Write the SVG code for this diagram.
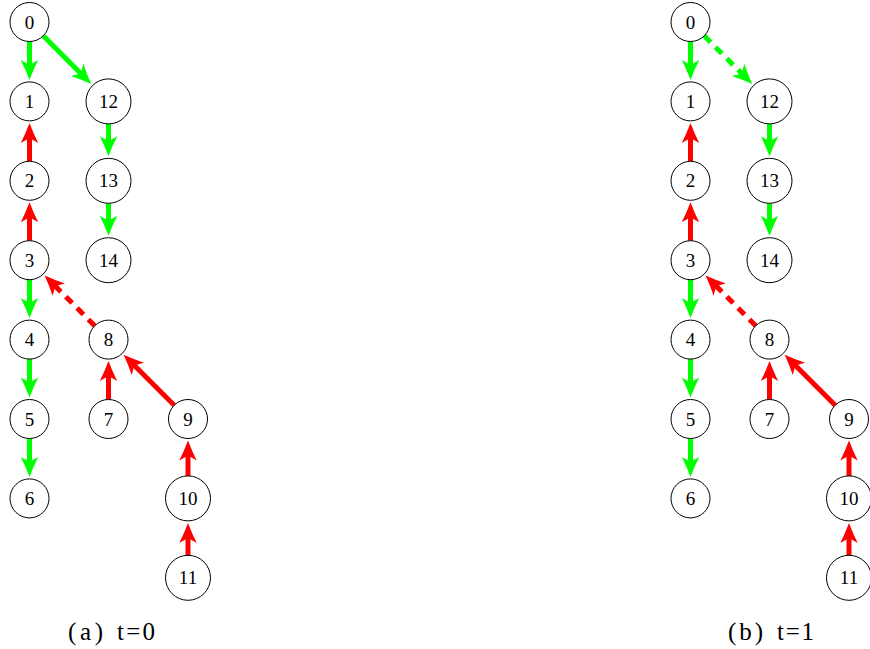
<svg xmlns="http://www.w3.org/2000/svg" width="870" height="649" viewBox="0 0 870 649">
<style>
.n circle{fill:#fff;stroke:#000;stroke-width:1}
.n text{font-family:"Liberation Serif","Times New Roman",serif;font-size:19px;text-anchor:middle;fill:#000}
.cap{font-family:"Liberation Serif","Times New Roman",serif;font-size:25px;fill:#000}
.g{stroke:#00ff00;stroke-width:5;fill:none;marker-end:url(#ag)}
.r{stroke:#ff0000;stroke-width:5;fill:none;marker-end:url(#ar)}
.d{stroke-dasharray:9 7}
</style>
<defs>
<marker id="ag" markerUnits="userSpaceOnUse" markerWidth="22" markerHeight="18" refX="8" refY="9" orient="auto" overflow="visible">
<path d="M20,9 Q9,4.8 0,0.3 L5,9 L0,17.7 Q9,13.2 20,9 Z" fill="#00ff00"/>
</marker>
<marker id="ar" markerUnits="userSpaceOnUse" markerWidth="22" markerHeight="18" refX="8" refY="9" orient="auto" overflow="visible">
<path d="M20,9 Q9,4.8 0,0.3 L5,9 L0,17.7 Q9,13.2 20,9 Z" fill="#ff0000"/>
</marker>
</defs>
<rect width="870" height="649" fill="#fff"/>

<g id="panel-a">
<g id="a-edges">
<line class="g" x1="29.5" y1="41.5" x2="29.5" y2="67.9"/>
<line class="g" x1="43.25" y1="35.82" x2="82.76" y2="75.52"/>
<line class="r" x1="29.5" y1="161.3" x2="29.5" y2="134.9"/>
<line class="r" x1="29.5" y1="240.7" x2="29.5" y2="214.3"/>
<line class="g" x1="29.5" y1="279.7" x2="29.5" y2="306.1"/>
<line class="g" x1="29.5" y1="359.1" x2="29.5" y2="385.5"/>
<line class="g" x1="29.5" y1="438.5" x2="29.5" y2="464.9"/>
<line class="g" x1="108.5" y1="123.9" x2="108.5" y2="144.3"/>
<line class="g" x1="108.5" y1="203.3" x2="108.5" y2="223.7"/>
<line class="r d" x1="94.75" y1="325.78" x2="53.12" y2="283.95"/>
<line class="r" x1="108.5" y1="399.5" x2="108.5" y2="373.1"/>
<line class="r" x1="174.2" y1="405.2" x2="132.2" y2="363.27"/>
<line class="r" x1="188" y1="475.9" x2="188" y2="452.5"/>
<line class="r" x1="188" y1="555.3" x2="188" y2="534.9"/>
</g>
<g id="a-n0" class="n"><circle cx="29.5" cy="22" r="19.5"/><text x="29.5" y="28.5">0</text></g>
<g id="a-n1" class="n"><circle cx="29.5" cy="101.4" r="19.5"/><text x="29.5" y="107.9">1</text></g>
<g id="a-n2" class="n"><circle cx="29.5" cy="180.8" r="19.5"/><text x="29.5" y="187.3">2</text></g>
<g id="a-n3" class="n"><circle cx="29.5" cy="260.2" r="19.5"/><text x="29.5" y="266.7">3</text></g>
<g id="a-n4" class="n"><circle cx="29.5" cy="339.6" r="19.5"/><text x="29.5" y="346.1">4</text></g>
<g id="a-n5" class="n"><circle cx="29.5" cy="419" r="19.5"/><text x="29.5" y="425.5">5</text></g>
<g id="a-n6" class="n"><circle cx="29.5" cy="498.4" r="19.5"/><text x="29.5" y="504.9">6</text></g>
<g id="a-n12" class="n"><circle cx="108.5" cy="101.4" r="22.5"/><text x="108.5" y="107.9">12</text></g>
<g id="a-n13" class="n"><circle cx="108.5" cy="180.8" r="22.5"/><text x="108.5" y="187.3">13</text></g>
<g id="a-n14" class="n"><circle cx="108.5" cy="260.2" r="22.5"/><text x="108.5" y="266.7">14</text></g>
<g id="a-n8" class="n"><circle cx="108.5" cy="339.6" r="19.5"/><text x="108.5" y="346.1">8</text></g>
<g id="a-n7" class="n"><circle cx="108.5" cy="419" r="19.5"/><text x="108.5" y="425.5">7</text></g>
<g id="a-n9" class="n"><circle cx="188" cy="419" r="19.5"/><text x="188" y="425.5">9</text></g>
<g id="a-n10" class="n"><circle cx="188" cy="498.4" r="22.5"/><text x="188" y="504.9">10</text></g>
<g id="a-n11" class="n"><circle cx="188" cy="577.8" r="22.5"/><text x="188" y="584.3">11</text></g>
<text id="cap-a" class="cap" y="640"><tspan x="68" textLength="35" lengthAdjust="spacing">(a)</tspan> <tspan x="117" textLength="38" lengthAdjust="spacing">t=0</tspan></text>
</g>

<g id="panel-b" transform="translate(661,0)">
<g id="b-edges">
<line class="g" x1="29.5" y1="41.5" x2="29.5" y2="67.9"/>
<line class="g d" x1="43.25" y1="35.82" x2="82.76" y2="75.52"/>
<line class="r" x1="29.5" y1="161.3" x2="29.5" y2="134.9"/>
<line class="r" x1="29.5" y1="240.7" x2="29.5" y2="214.3"/>
<line class="g" x1="29.5" y1="279.7" x2="29.5" y2="306.1"/>
<line class="g" x1="29.5" y1="359.1" x2="29.5" y2="385.5"/>
<line class="g" x1="29.5" y1="438.5" x2="29.5" y2="464.9"/>
<line class="g" x1="108.5" y1="123.9" x2="108.5" y2="144.3"/>
<line class="g" x1="108.5" y1="203.3" x2="108.5" y2="223.7"/>
<line class="r d" x1="94.75" y1="325.78" x2="53.12" y2="283.95"/>
<line class="r" x1="108.5" y1="399.5" x2="108.5" y2="373.1"/>
<line class="r" x1="174.2" y1="405.2" x2="132.2" y2="363.27"/>
<line class="r" x1="188" y1="475.9" x2="188" y2="452.5"/>
<line class="r" x1="188" y1="555.3" x2="188" y2="534.9"/>
</g>
<g id="b-n0" class="n"><circle cx="29.5" cy="22" r="19.5"/><text x="29.5" y="28.5">0</text></g>
<g id="b-n1" class="n"><circle cx="29.5" cy="101.4" r="19.5"/><text x="29.5" y="107.9">1</text></g>
<g id="b-n2" class="n"><circle cx="29.5" cy="180.8" r="19.5"/><text x="29.5" y="187.3">2</text></g>
<g id="b-n3" class="n"><circle cx="29.5" cy="260.2" r="19.5"/><text x="29.5" y="266.7">3</text></g>
<g id="b-n4" class="n"><circle cx="29.5" cy="339.6" r="19.5"/><text x="29.5" y="346.1">4</text></g>
<g id="b-n5" class="n"><circle cx="29.5" cy="419" r="19.5"/><text x="29.5" y="425.5">5</text></g>
<g id="b-n6" class="n"><circle cx="29.5" cy="498.4" r="19.5"/><text x="29.5" y="504.9">6</text></g>
<g id="b-n12" class="n"><circle cx="108.5" cy="101.4" r="22.5"/><text x="108.5" y="107.9">12</text></g>
<g id="b-n13" class="n"><circle cx="108.5" cy="180.8" r="22.5"/><text x="108.5" y="187.3">13</text></g>
<g id="b-n14" class="n"><circle cx="108.5" cy="260.2" r="22.5"/><text x="108.5" y="266.7">14</text></g>
<g id="b-n8" class="n"><circle cx="108.5" cy="339.6" r="19.5"/><text x="108.5" y="346.1">8</text></g>
<g id="b-n7" class="n"><circle cx="108.5" cy="419" r="19.5"/><text x="108.5" y="425.5">7</text></g>
<g id="b-n9" class="n"><circle cx="188" cy="419" r="19.5"/><text x="188" y="425.5">9</text></g>
<g id="b-n10" class="n"><circle cx="188" cy="498.4" r="22.5"/><text x="188" y="504.9">10</text></g>
<g id="b-n11" class="n"><circle cx="188" cy="577.8" r="22.5"/><text x="188" y="584.3">11</text></g>
<text id="cap-b" class="cap" y="640"><tspan x="67" textLength="35" lengthAdjust="spacing">(b)</tspan> <tspan x="116" textLength="37" lengthAdjust="spacing">t=1</tspan></text>
</g>
</svg>
